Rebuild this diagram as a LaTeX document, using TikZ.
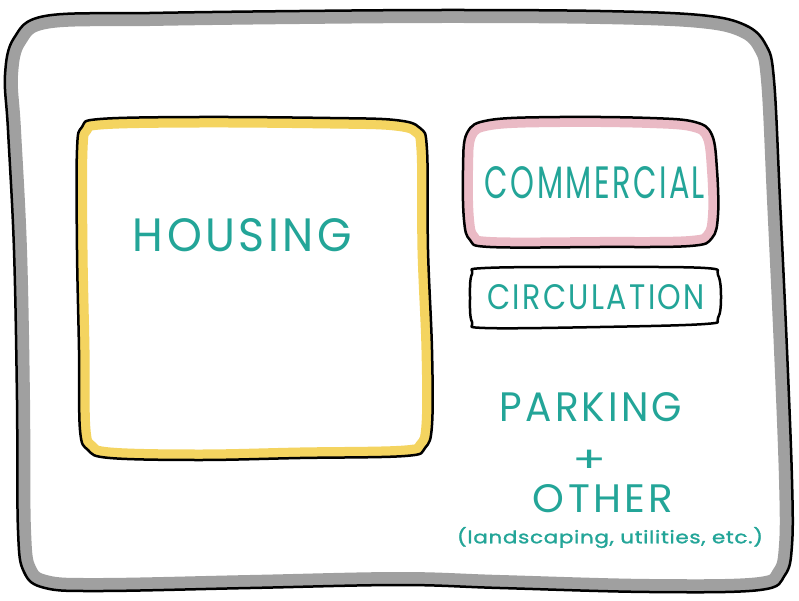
\documentclass[tikz,border=0pt]{standalone}
\usepackage{graphicx}
\usepackage{fontspec}
\setmainfont{Poppins}
\newfontfamily\handfont[LetterSpace=8]{Poppins}
\newfontfamily\notefont[LetterSpace=3, FakeBold=1.2]{Poppins}

\definecolor{inkteal}{RGB}{35,165,152}
\definecolor{bandgray}{RGB}{160,160,160}
\definecolor{bandyellow}{RGB}{244,212,96}
\definecolor{bandpink}{RGB}{234,186,197}

% a label stretched to a given width and height
\newcommand{\fitlabel}[3]{\resizebox{#1}{#2}{\handfont #3}}

\tikzset{
  ink/.style={draw=black, line width=2.5pt, line join=round},
  lab/.style={inner sep=0pt, text=inkteal},
}

% hand-drawn outlines
\def\framepath{plot[smooth cycle, tension=0.6] coordinates {(45,16) (150,13) (300,11) (450,10) (600,11) (700,15) (745,25) (766,45) (774,80) (780,200) (787,350) (792,480) (792,545) (785,575) (760,590) (650,592) (500,588) (400,585) (250,588) (100,591) (45,588) (24,572) (18,530) (17,400) (14,250) (8,130) (5,75) (14,38)}}
\def\housingpath{plot[smooth cycle, tension=0.6] coordinates {(100,119) (200,117) (330,118) (395,120) (420,128) (427,150) (428,250) (432,350) (432,425) (425,448) (405,456) (300,458) (200,460) (110,458) (88,450) (80,430) (79,350) (77,250) (77,150) (82,127)}}
\def\commercialpath{plot[smooth cycle, tension=0.6] coordinates {(490,120) (560,117) (650,118) (695,122) (712,135) (717,170) (718,215) (712,238) (690,246) (600,247) (490,247) (470,240) (464,220) (463,170) (467,133)}}
\def\circulationpath{plot[smooth cycle, tension=0.6] coordinates {(485,268) (600,267) (705,268) (718,275) (721,297) (718,318) (705,324) (600,327) (485,328) (472,322) (470,298) (472,274)}}

\begin{document}
\begin{tikzpicture}[x=1pt, y=-1pt]
  \useasboundingbox[fill=white] (0,0) rectangle (799,601);

  % site frame: gray wash inside a black line
  \begin{scope}
    \clip \framepath;
    \draw[bandgray, line width=26pt] \framepath;
  \end{scope}
  \draw[ink] \framepath;

  % housing block with yellow wash
  \begin{scope}
    \clip \housingpath;
    \draw[bandyellow, line width=21pt] \housingpath;
  \end{scope}
  \draw[ink] \housingpath;

  % commercial block with pink wash
  \begin{scope}
    \clip \commercialpath;
    \draw[bandpink, line width=20pt] \commercialpath;
  \end{scope}
  \draw[ink] \commercialpath;

  % circulation block
  \draw[ink] \circulationpath;

  % labels
  \node[lab] (housing) at (242.5,235) {\fitlabel{219pt}{33pt}{HOUSING}};
  \node[lab] (commercial) at (595,183) {\fitlabel{220pt}{32pt}{COMMERCIAL}};
  \node[lab] (circulation) at (596,297.5) {\fitlabel{218pt}{25pt}{CIRCULATION}};
  \node[lab] (parking) at (591,407.5) {\fitlabel{182pt}{29pt}{PARKING}};
  \node[lab] (plus) at (590,461) {\fontsize{50pt}{50pt}\selectfont\scalebox{1}[0.72]{+}};
  \node[lab] (other) at (603,499) {\fitlabel{140pt}{28pt}{OTHER}};
  \node[lab] (note) at (610,537.5) {\resizebox*{306pt}{21pt}{\notefont (landscaping, utilities, etc.)}};
\end{tikzpicture}
\end{document}
